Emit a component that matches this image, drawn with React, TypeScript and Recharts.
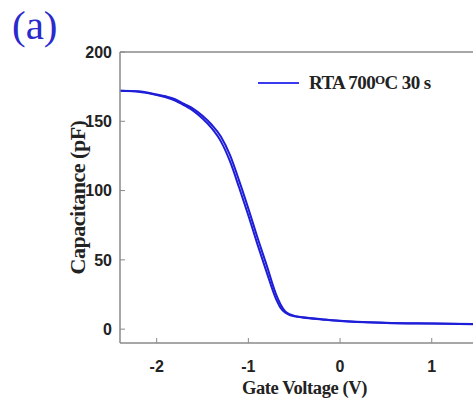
import { LineChart, Line, XAxis, YAxis, ReferenceLine, Label } from 'recharts';

const voltage = [-2.4, -2.2, -2.0, -1.9, -1.8, -1.7, -1.6, -1.5, -1.4, -1.3, -1.2, -1.1, -1.0, -0.9, -0.8, -0.7, -0.65, -0.6, -0.55, -0.5, -0.4, -0.2, 0, 0.5, 1.0, 1.45];
const capForward = [172, 171.4, 169, 167.3, 165, 161.5, 157.5, 152, 145, 135.5, 121, 102, 82, 61, 41, 22, 15.5, 12, 10.2, 9.3, 8.3, 7, 5.8, 4.5, 4, 3.6];
const capReverse = [172, 171.6, 169.4, 168, 166, 162.5, 159, 154, 147.5, 139, 125.5, 107, 87, 66, 46, 25.5, 18, 13, 10.8, 9.6, 8.6, 7.2, 6, 4.6, 4.1, 3.7];

const xTicks = [-2, -1, 0, 1];
const yTicks = [0, 50, 100, 150, 200];

const data = voltage.map((v, i) => ({ v, fwd: capForward[i], rev: capReverse[i] }));

const BLUE = '#1e1ed8';
const AXIS = '#8a8a8a';
const tickFont = '"Liberation Sans", Arial, sans-serif';
const serif = '"Liberation Serif", "Times New Roman", serif';

function YTick({ x, y, payload }: any) {
  return (
    <g>
      <line x1={x} x2={x + 5} y1={y} y2={y} stroke={AXIS} strokeWidth={1} />
      <text x={x - 8} y={y} dy="0.36em" textAnchor="end" fontFamily={tickFont} fontWeight="bold" fontSize={16} fill="#222">
        {payload.value}
      </text>
    </g>
  );
}

function XTick({ x, y, payload }: any) {
  return (
    <g>
      <line x1={x} x2={x} y1={y} y2={y - 5} stroke={AXIS} strokeWidth={1} />
      <text x={x} y={y + 29} textAnchor="middle" fontFamily={tickFont} fontWeight="bold" fontSize={16} fill="#222">
        {payload.value}
      </text>
    </g>
  );
}

function LegendBox() {
  return (
    <div style={{ position: 'absolute', left: 255, top: 72, display: 'flex', alignItems: 'center', fontFamily: serif, fontWeight: 'bold', fontSize: 19, color: '#222', whiteSpace: 'nowrap' }}>
      <svg width={54} height={20}>
        <line x1={3} x2={44} y1={10} y2={10} stroke="#3a3af0" strokeWidth={2} />
      </svg>
      <span style={{ letterSpacing: -0.6 }}>
        RTA 700<sup style={{ fontSize: 13, verticalAlign: 5 }}>O</sup>C 30 s
      </span>
    </div>
  );
}

export default function App() {
  return (
    <div style={{ position: 'fixed', left: 0, top: 0, width: 473, height: 399, background: '#fff', overflow: 'hidden' }}>
      <LineChart width={473} height={399} data={data} margin={{ top: 52, right: 0, left: 60, bottom: 0 }}>
        <XAxis
          dataKey="v"
          type="number"
          domain={[-2.4, 1.45]}
          ticks={xTicks}
          allowDataOverflow
          height={56}
          stroke={AXIS}
          strokeWidth={1.5}
          tickLine={false}
          tickSize={0}
          tickMargin={0}
          tick={<XTick />}
        >
          <Label value="Gate Voltage (V)" position="insideBottom" offset={5} dx={8} style={{ fontFamily: serif, fontWeight: 'bold', fontSize: 18.5, fill: '#222', letterSpacing: -0.4 }} />
        </XAxis>
        <YAxis
          type="number"
          domain={[-10, 200]}
          ticks={yTicks}
          width={60}
          stroke={AXIS}
          strokeWidth={1.5}
          tickLine={false}
          tickSize={0}
          tickMargin={0}
          tick={<YTick />}
        >
          <Label value="Capacitance (pF)" angle={-90} position="center" dx={-13} style={{ fontFamily: serif, fontWeight: 'bold', fontSize: 22, fill: '#222', letterSpacing: -0.5, textAnchor: 'middle' }} />
        </YAxis>
        <ReferenceLine y={200} stroke={AXIS} strokeWidth={1.5} />
        <Line type="monotone" dataKey="fwd" stroke={BLUE} strokeWidth={2} dot={false} isAnimationActive={false} />
        <Line type="monotone" dataKey="rev" stroke={BLUE} strokeWidth={2} dot={false} isAnimationActive={false} />
      </LineChart>
      <div style={{ position: 'absolute', left: 12, top: 3, fontFamily: serif, fontSize: 41, lineHeight: 1.1, color: '#2a2acc' }}>(a)</div>
      <LegendBox />
    </div>
  );
}
